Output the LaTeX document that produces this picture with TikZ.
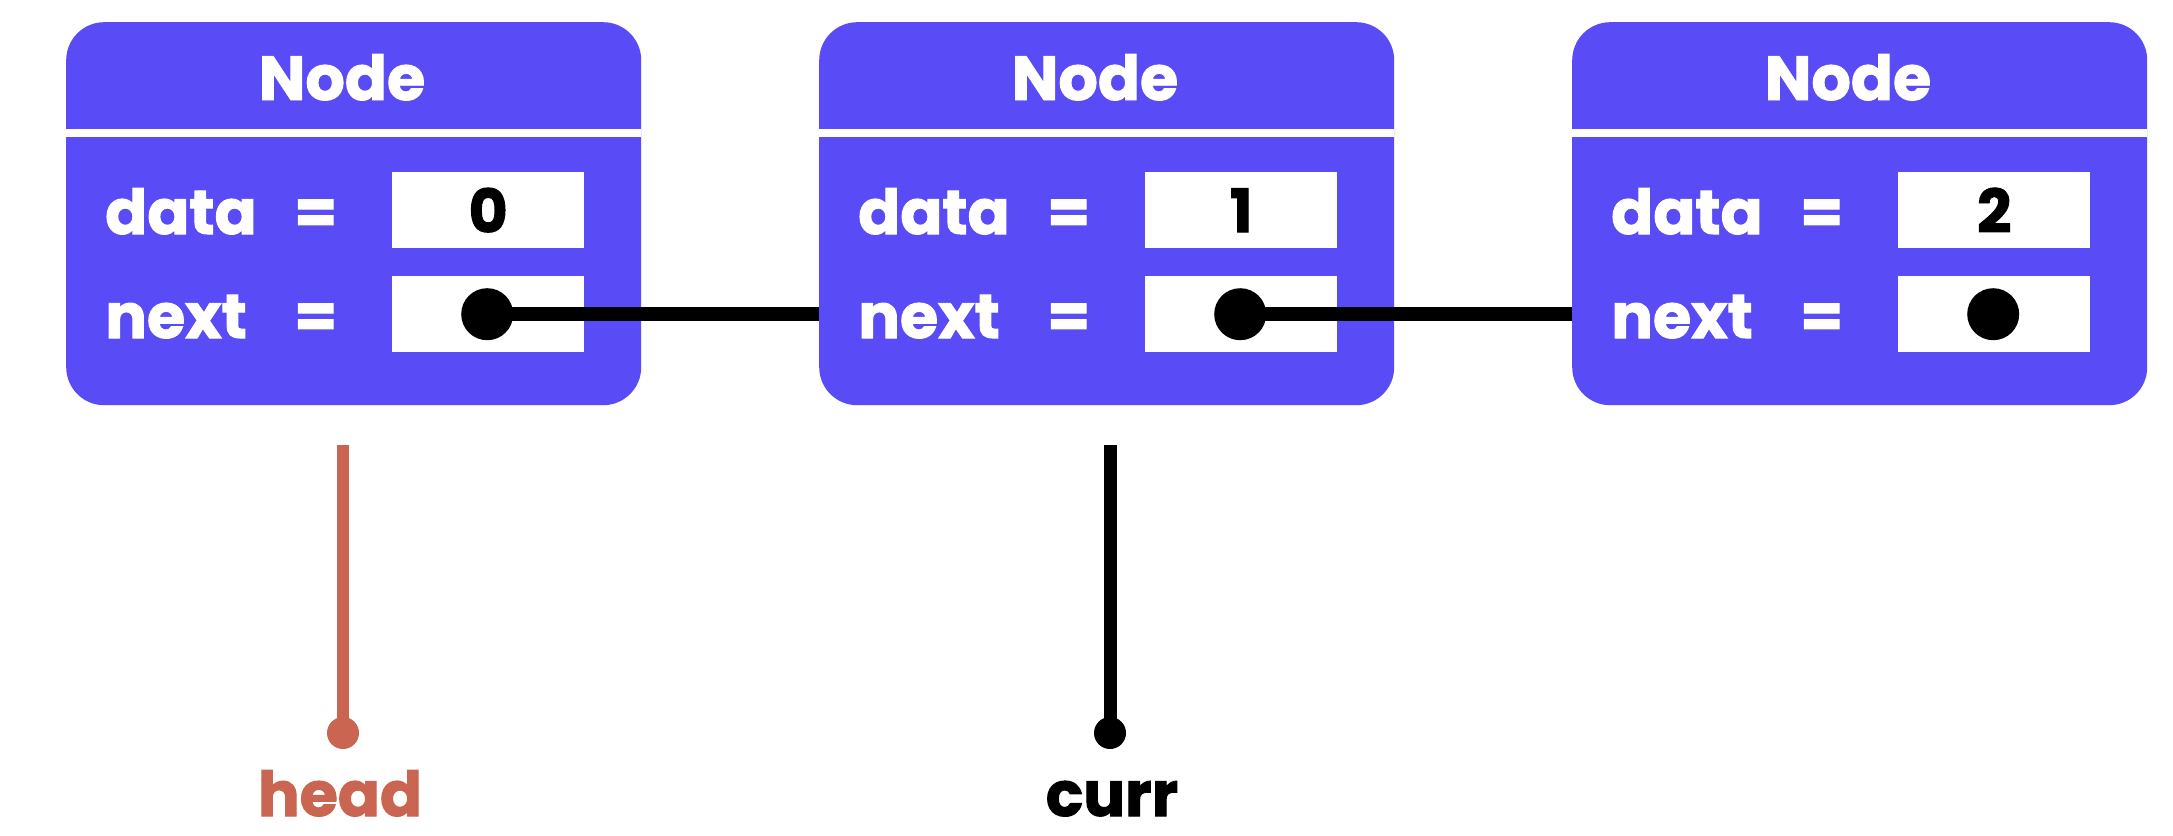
\documentclass[tikz,border=0pt]{standalone}
\usepackage{fontspec}
\setmainfont{Poppins}[BoldFeatures={FakeBold=1.6}]
\definecolor{nodepurple}{RGB}{89,75,246}
\definecolor{headred}{RGB}{201,101,80}
\begin{document}
\begin{tikzpicture}[x=1pt,y=-1pt,
  listbox/.style={fill=nodepurple, draw=none, rounded corners=38pt, minimum width=575pt, minimum height=383pt, inner sep=0pt},
  sepline/.style={white, line width=8pt},
  lbl/.style={font=\fontsize{62}{62}\selectfont\bfseries, inner sep=0pt},
  wlbl/.style={lbl, text=white},
  valbox/.style={fill=white, draw=none, minimum width=192pt, minimum height=76pt, inner sep=0pt, font=\fontsize{60}{60}\selectfont\bfseries, anchor=north west},
  ptrdot/.style={circle, fill=black, minimum size=52pt, inner sep=0pt},
  link/.style={line width=14pt, black},
  tipdot/.style={circle, minimum size=32pt, inner sep=0pt},
]
\useasboundingbox (0,0) rectangle (2173,835);
\fill[white] (0,0) rectangle (2173,835);
\foreach \i in {0,1,2} {
  \pgfmathsetmacro\L{66+753*\i}
  \node[listbox, anchor=north west] (box\i) at (\L,22) {};
  \draw[sepline] ([yshift=-111pt]box\i.north west) -- ([yshift=-111pt]box\i.north east);
  \node[wlbl, anchor=base] (title\i) at ({\L+276},100) {Node};
  \node[wlbl, anchor=base west] (dlab\i) at ({\L+39},234) {data};
  \node[wlbl, anchor=base west] (deq\i) at ({\L+228},234) {=};
  \node[wlbl, anchor=base west] (nlab\i) at ({\L+39},338) {next};
  \node[wlbl, anchor=base west] (neq\i) at ({\L+228},338) {=};
  \node[valbox] (dval\i) at ({\L+326},172) {\i};
  \node[valbox] (nval\i) at ({\L+326},276) {};
  \node[ptrdot] (dot\i) at ([xshift=-1pt]nval\i.center) {};
}
\draw[link] (dot0.center) -- (box1.west |- dot0.center);
\draw[link] (dot1.center) -- (box2.west |- dot1.center);
% head pointer
\coordinate (headtop) at (343,445);
\node[tipdot, fill=headred] (headdot) at (343,733) {};
\draw[headred, line width=12pt] (headtop) -- (headdot.center);
\node[lbl, text=headred, anchor=base] (headlbl) at (340,816) {head};
% curr pointer
\coordinate (currtop) at (1110,445);
\node[tipdot, fill=black] (currdot) at (1110,733) {};
\draw[black, line width=13pt] (currtop) -- (currdot.center);
\node[lbl, text=black, anchor=base] (currlbl) at (1112,816) {curr};
\end{tikzpicture}
\end{document}
